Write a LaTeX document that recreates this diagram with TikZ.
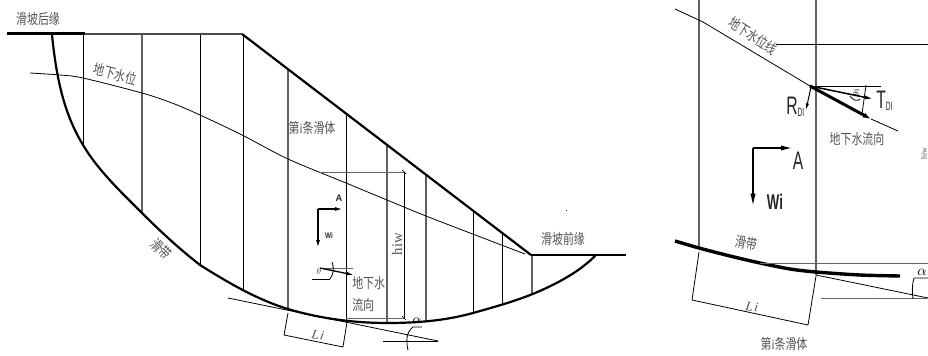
\documentclass[tikz,border=0pt]{standalone}
\usepackage{fontspec}
\usepackage{graphicx}
\setmainfont{Liberation Sans}
\setsansfont{Liberation Sans}
\newfontfamily\cjk{Noto Sans CJK SC}
\newfontfamily\serifcond{Liberation Serif}
\usetikzlibrary{arrows.meta}
\newcommand{\cn}[2][0.76]{\scalebox{#1}[1]{\cjk #2}}
\newcommand{\narrow}[2][0.62]{\scalebox{#1}[1]{#2}}
\tikzset{
 txt/.style={inner sep=0pt,text=black!68,font=\fontsize{10.8pt}{12pt}\selectfont,align=left},
 thick line/.style={line width=2.2pt*0.75,black},
 heavy/.style={line width=3pt*0.75,black},
 slice/.style={line width=1.1pt*0.75,black!62},
 sliced/.style={line width=1pt*0.75,black},
 thin line/.style={line width=0.8pt*0.75,black},
 greyline/.style={line width=0.9pt*0.75,black!60},
 force/.style={line width=1.5pt*0.75,black,-{Latex[length=6pt,width=3pt]}},
 forcesm/.style={line width=1.1pt*0.75,black,-{Latex[length=5pt,width=2.5pt]}},
 sanslabel/.style={inner sep=0pt,text=black!85,font=\sffamily},
}
\begin{document}
\begin{tikzpicture}[x=0.75pt,y=-0.75pt]
\useasboundingbox (0,0) rectangle (928,356);
\clip (0,0) rectangle (928,356);
% ---------- left figure ----------
\draw[sliced] (83,34) -- (83,145);
\draw[slice] (142,34) -- (142,213);
\draw[sliced] (200,34) -- (200,265);
\draw[sliced] (243,34) -- (243,291);
\draw[slice] (288,69) -- (288,309);
\draw[sliced] (346,114) -- (346,321);
\draw[slice] (387,145) -- (387,323);
\draw[slice] (426,175) -- (426,322);
\draw[sliced] (473,211) -- (473,313);
\draw[sliced] (502,233) -- (502,304);
\draw[slice] (532,256) -- (532,294);
% ground
\draw[line width=2.4pt*0.75,black!70] (85,34) -- (242,34);
\draw[heavy] (7,34) -- (85,34);
\draw[thick line] (242,34) -- (531,255);
\draw[thick line] (531,255) -- (626,255);
% slip surface
\draw[thick line,line cap=round] (52,35) .. controls (53.5,49) and (55.2,63) .. (58,77)
 .. controls (62.5,99.7) and (69.2,122) .. (83,145)
 .. controls (98.4,170.7) and (120.8,191.8) .. (142,213)
 .. controls (160.4,231.4) and (179.5,249) .. (200,265)
 .. controls (226,281.3) and (256.4,299.5) .. (288,309)
 .. controls (319.6,318.5) and (354,323) .. (387,323)
 .. controls (416,323) and (445,320.8) .. (473,313)
 .. controls (496,306.5) and (520,300) .. (542,290)
 .. controls (561,281.4) and (580.2,270.8) .. (595,256);
% water level
\draw[thin line] plot[smooth,tension=0.5] coordinates {(30,73) (60,75) (83,78) (142,93) (172,103) (200,115) (242,135) (288,159) (346,183) (387,200) (426,216) (470,233) (525,254)};
% hiw dimension
\draw[greyline] (320,172) -- (405,172);
\draw[thin line] (404,172) -- (404,318);
\draw[greyline] (346,318) -- (405,318);
\draw[black,line width=0.7pt*0.75] (402,170) -- (406,174) (402,316) -- (406,320);
\node[txt,rotate=90,font=\fontsize{11pt}{12pt}\selectfont] (hiw) at (397,244) {\serifcond hiw};
% forces
\coordinate (fa) at (318,209);
\coordinate (fb) at (343,209);
\coordinate (fc) at (318,248);
\draw[force] (fa) -- (fb);
\draw[force] (fa) -- (fc);
\node[sanslabel,font=\sffamily\bfseries\fontsize{7pt}{8pt}\selectfont] (aL) at (339,198) {A};
\node[sanslabel,font=\sffamily\bfseries\fontsize{6pt}{7pt}\selectfont] (wL) at (329,236) {\narrow[0.8]{Wi}};
% theta
\draw[greyline] (320,268) -- (353,268);
\draw[force,line width=1.3pt*0.75] (320,268) -- (354,275);
\draw[thin line] (312,279) -- (330,279);
\draw[thin line] (332,262) .. controls (334,267) and (334,274) .. (330,279);
\node[txt,font=\fontsize{7pt}{8pt}\selectfont] (th) at (319,271) {\serifcond$\theta$};
\node[txt,anchor=north west] (flow) at (352,276) {\cn{地下水}\\[4.5pt]\cn{流向}};
% Li
\draw[thin line] (288,313) -- (284,335) (347,322) -- (343,347) (284,335) -- (343,347);
\node[txt,rotate=-10,font=\fontsize{10pt}{11pt}\selectfont] (li) at (318,335) {\serifcond\itshape L\kern1pt i};
% tangent
\draw[thin line] (228,298) -- (438,341);
\draw[thin line] (383,341) -- (438,341);
\draw[thin line] (413,327) -- (422,327) (413,327) .. controls (406,332) and (406,342) .. (408,350);
\node[inner sep=0pt,font=\fontsize{10pt}{11pt}\selectfont] (al) at (417,321) {$\alpha$};
% labels
\node[txt] (rear) at (38,19) {\cn{滑坡后缘}};
\node[txt,rotate=-15] (wl) at (115,74) {\cn{地下水位}};
\node[txt] (ith) at (312,128) {\scalebox{0.76}[1]{\cjk 第\serifcond i\cjk 条滑体}};
\node[txt,rotate=-45] (band) at (161,249) {\cn{滑带}};
\node[txt] (front) at (563,239) {\cn{滑坡前缘}};
\fill[black] (566.5,210.5) circle (0.5);
% ---------- right figure ----------
\draw[slice] (699,0) -- (699,247);
\draw[slice] (816,0) -- (816,275);
\draw[thin line] (675,9) -- (703,22) -- (810,86);
\draw[thin line] (776,44) -- (928,44);
\draw[thin line] (810,86) -- (881,86);
\draw[force,line width=1.5pt*0.75] (810,86) -- (873,99);
\draw[line width=3pt*0.75,black,-{Latex[length=6pt,width=4pt]}] (810,86) -- (871,119);
\draw[thin line] (871,119) -- (898,131);
\draw[forcesm,line width=1pt*0.75] (811,87) -- (806,110);
\draw[thin line] (866,85) -- (862,114);
\draw[thin line] (850,96) .. controls (852,100) and (858,102) .. (860,99);
\node[inner sep=0pt,font=\fontsize{6pt}{7pt}\selectfont,rotate=90] (thi) at (856,93) {\serifcond$\theta$i};
\node[sanslabel,font=\sffamily\fontsize{19pt}{20pt}\selectfont,anchor=base west] (rd) at (786,115) {\narrow[0.62]{R}\raisebox{-1pt}{\fontsize{9pt}{10pt}\selectfont\narrow[0.55]{DI}}};
\node[sanslabel,font=\sffamily\fontsize{19pt}{20pt}\selectfont,anchor=base west] (td) at (876,109) {\narrow[0.62]{T}\raisebox{-1pt}{\fontsize{9pt}{10pt}\selectfont\narrow[0.55]{DI}}};
\node[txt] (flowr) at (857,139) {\cn{地下水流向}};
\node[txt,rotate=-33] (wlr) at (753,36) {\cn{地下水位线}};
\coordinate (ra) at (753,148);
\coordinate (rb) at (793,148);
\coordinate (rc) at (753,207);
\draw[line width=1.8pt*0.75,-{Latex[length=9pt,width=4pt]}] (ra) -- (rb);
\draw[line width=1.8pt*0.75,-{Latex[length=10pt,width=4pt]}] (ra) -- (rc);
\node[sanslabel,font=\sffamily\fontsize{19pt}{20pt}\selectfont] (ar) at (798,161) {\narrow[0.62]{A}};
\node[sanslabel,font=\sffamily\bfseries\fontsize{16pt}{17pt}\selectfont] (wr) at (775,202) {\narrow[0.62]{Wi}};
% slip band
\draw[line width=3.4pt*0.75,black] plot[smooth,tension=0.5] coordinates {(675,241) (699,248) (730,256) (760,263) (790,269) (816,272) (860,275) (900,276)};
\draw[greyline] (760,263) -- (928,263);
\draw[thin line] (816,275) -- (928,298);
\draw[greyline] (821,298) -- (928,298);
\draw[thin line] (928,278) -- (914,278) .. controls (912,284) and (912,292) .. (913,299);
\node[inner sep=0pt,font=\fontsize{11pt}{12pt}\selectfont] (alr) at (922,272) {$\alpha$};
% Li right
\draw[thin line] (699,252) -- (692,300) (816,276) -- (808,325) (692,300) -- (808,325);
\node[txt,rotate=-8,font=\fontsize{10pt}{11pt}\selectfont] (lir) at (752,307) {\serifcond\itshape L\kern1pt i};
\node[txt,rotate=-10] (bandr) at (746,243) {\cn{滑带}};
\node[txt] (ithr) at (784,344) {\scalebox{0.76}[1]{\cjk 第\serifcond i\cjk 条滑体}};
\node[txt,rotate=90,font=\fontsize{6pt}{7pt}\selectfont] (cut) at (924,154) {\serifcond hiw};
\end{tikzpicture}
\end{document}
